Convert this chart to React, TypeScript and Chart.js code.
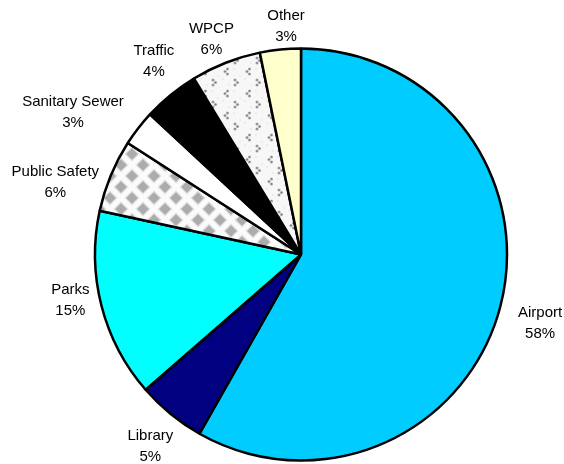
import React, { useEffect, useRef } from "react";
import { Chart, registerables } from "chart.js";

Chart.register(...registerables);

const categories = ["Airport", "Library", "Parks", "Public Safety", "Sanitary Sewer", "Traffic", "WPCP", "Other"];
const values = [58.2, 5.4, 14.8, 5.7, 2.8, 4.4, 5.5, 3.2];
const percentLabels = ["58%", "5%", "15%", "6%", "3%", "4%", "6%", "3%"];

// small text nudges (px) to mimic the original label placement
const labelNudgeX = [5, 3, 1, -2, -14, 5, -1, 9];
const labelNudgeY = [8, 6, -14, 20, 5, -7, 8, 11];

function diamondPattern(ctx: CanvasRenderingContext2D): CanvasPattern | string {
  const s = 22;
  const c = document.createElement("canvas");
  c.width = s;
  c.height = s;
  const g = c.getContext("2d");
  if (!g) return "#ccc";
  g.fillStyle = "#fbfbfb";
  g.fillRect(0, 0, s, s);
  const dia = (cx: number, cy: number, h: number, col: string) => {
    g.fillStyle = col;
    g.beginPath();
    g.moveTo(cx, cy - h);
    g.lineTo(cx + h, cy);
    g.lineTo(cx, cy + h);
    g.lineTo(cx - h, cy);
    g.closePath();
    g.fill();
  };
  const centers = [[0, 0], [s, 0], [0, s], [s, s], [s / 2, s / 2]];
  for (const [x, y] of centers) dia(x, y, 7.5, "#dedede");
  for (const [x, y] of centers) dia(x, y, 5.8, "#acacac");
  return ctx.createPattern(c, "repeat") || "#ccc";
}

function chevronPattern(ctx: CanvasRenderingContext2D): CanvasPattern | string {
  const c = document.createElement("canvas");
  c.width = 22;
  c.height = 22;
  const g = c.getContext("2d");
  if (!g) return "#eee";
  g.fillStyle = "#f7f7f7";
  g.fillRect(0, 0, 22, 22);
  g.fillStyle = "#ececec";
  for (const [x, y] of [[2, 12], [13, 2], [19, 9], [8, 18], [15, 13], [4, 6]]) g.fillRect(x, y, 2, 2);
  const dot = (x: number, y: number) => {
    g.fillStyle = "#b0b0b0";
    g.beginPath();
    g.arc(x, y, 1.6, 0, Math.PI * 2);
    g.fill();
    g.fillStyle = "#7a7a7a";
    g.fillRect(x - 0.7, y - 0.7, 1.4, 1.4);
  };
  dot(7.5, 3);
  dot(5, 5.5);
  dot(7.5, 8);
  dot(15, 14);
  dot(17.5, 16.5);
  dot(15, 19);
  return ctx.createPattern(c, "repeat") || "#eee";
}

const labelPlugin = {
  id: "outerLabels",
  afterDraw(chart: any) {
    const ctx: CanvasRenderingContext2D = chart.ctx;
    const meta = chart.getDatasetMeta(0);
    ctx.save();
    ctx.font = '15px "Liberation Sans", Arial, sans-serif';
    ctx.fillStyle = "#000";
    ctx.textAlign = "center";
    ctx.textBaseline = "middle";
    const lineH = 21;
    meta.data.forEach((arc: any, i: number) => {
      const { x, y, startAngle, endAngle, outerRadius } = arc.getProps(
        ["x", "y", "startAngle", "endAngle", "outerRadius"],
        true
      );
      const mid = (startAngle + endAngle) / 2;
      const cos = Math.cos(mid);
      const sin = Math.sin(mid);
      const lines = [categories[i], percentLabels[i]];
      const w = Math.max(...lines.map((l) => ctx.measureText(l).width));
      const h = lines.length * 20;
      const gap = 14;
      const ax = x + (outerRadius + gap) * cos;
      const ay = y + (outerRadius + gap) * sin;
      const cx = ax + (w / 2) * cos + labelNudgeX[i];
      const cy = ay + (h / 2) * sin + labelNudgeY[i];
      lines.forEach((l, k) => {
        ctx.fillText(l, cx, cy - lineH / 2 + k * lineH);
      });
    });
    ctx.restore();
  },
};

export default function App() {
  const ref = useRef<HTMLCanvasElement>(null);
  useEffect(() => {
    document.body.style.margin = "0";
    const canvas = ref.current;
    if (!canvas) return;
    const ctx = canvas.getContext("2d");
    if (!ctx) return;
    const colors = [
      "#00CCFF",
      "#000080",
      "#00FFFF",
      diamondPattern(ctx),
      "#FFFFFF",
      "#000000",
      chevronPattern(ctx),
      "#FFFFCC",
    ];
    const chart = new Chart(canvas, {
      type: "pie",
      data: {
        labels: categories,
        datasets: [
          {
            data: values,
            backgroundColor: colors as any,
            borderColor: "#000",
            borderWidth: 2.5,
            radius: 206,
          } as any,
        ],
      },
      options: {
        responsive: false,
        animation: false,
        layout: { padding: { left: 38, right: 0, top: 45, bottom: 0 } },
        plugins: {
          legend: { display: false },
          tooltip: { enabled: false },
        },
      },
      plugins: [labelPlugin],
    });
    return () => chart.destroy();
  }, []);
  return (
    <div style={{ width: 564, height: 464, background: "#fff" }}>
      <canvas ref={ref} width={564} height={464} style={{ display: "block" }} />
    </div>
  );
}
